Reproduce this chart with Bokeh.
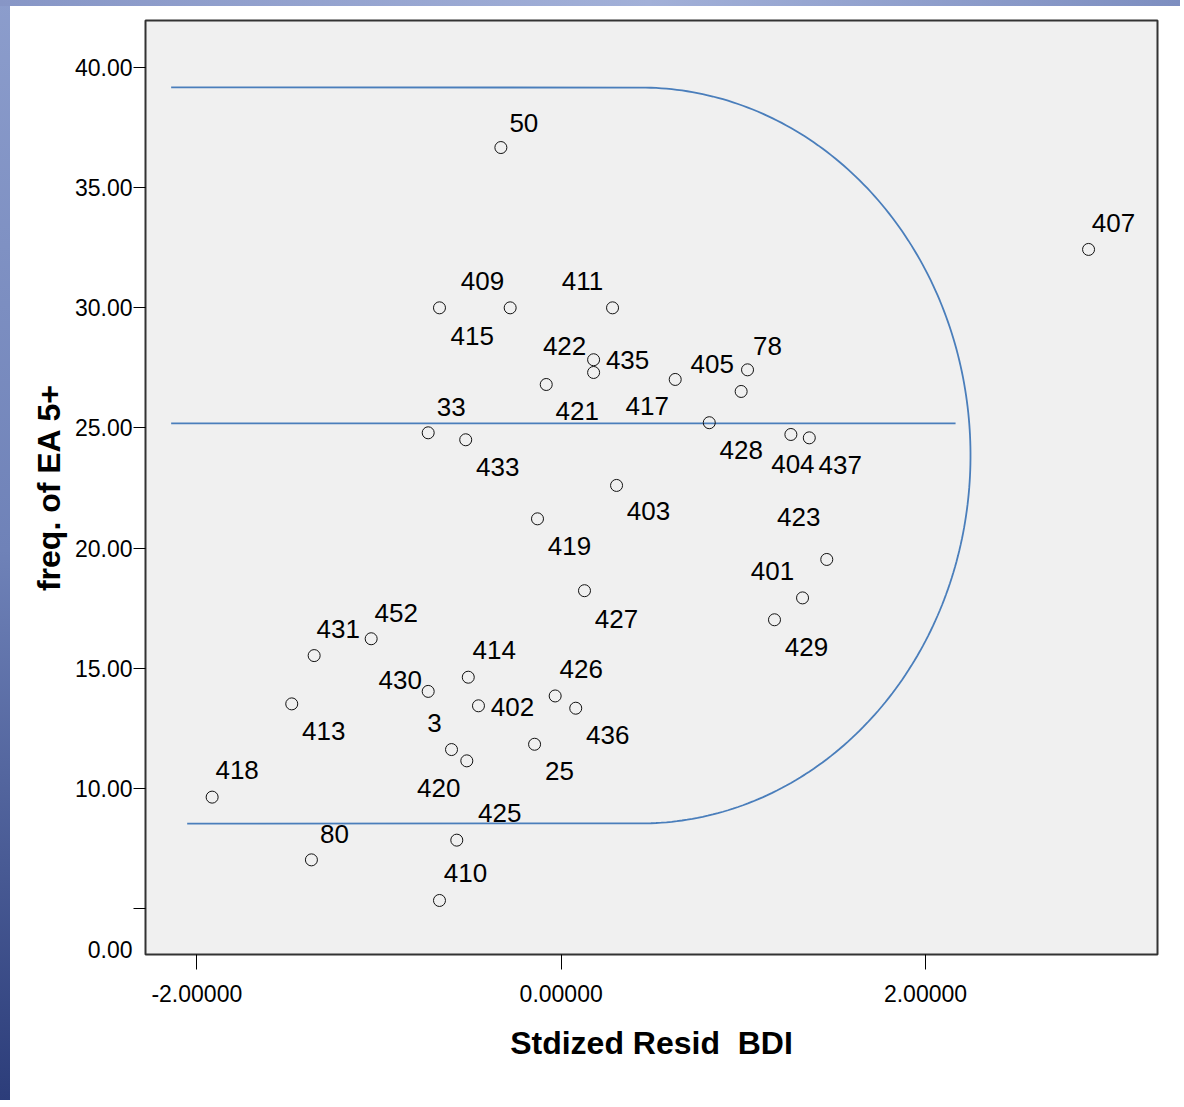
import numpy as np
from bokeh.plotting import figure
from bokeh.models import (FixedTicker, NumeralTickFormatter,
                          ColumnDataSource, Range1d)
from bokeh.core.properties import value
from bokeh.embed import file_html
from bokeh.resources import INLINE

# ---- data ----
case_ids = ["50", "407", "409", "415", "411", "422", "435", "421", "417", "78",
            "405", "428", "33", "433", "404", "437", "403", "419", "423", "401",
            "429", "427", "452", "431", "414", "430", "426", "402", "436", "413",
            "3", "420", "25", "418", "425", "80", "410"]
resid = [-0.331, 2.895, -0.668, -0.280, 0.282, 0.178, 0.178, -0.082, 0.626, 1.023,
         0.988, 0.813, -0.730, -0.524, 1.261, 1.362, 0.304, -0.130, 1.458, 1.325,
         1.171, 0.128, -1.043, -1.356, -0.510, -0.730, -0.033, -0.454, 0.080, -1.479,
         -0.602, -0.518, -0.146, -1.916, -0.573, -1.371, -0.668]
freq = [36.67, 32.43, 30.00, 30.00, 30.00, 27.84, 27.31, 26.81, 27.02, 27.42,
        26.52, 25.22, 24.80, 24.51, 24.73, 24.59, 22.61, 21.22, 19.53, 17.93,
        17.02, 18.23, 16.23, 15.53, 14.63, 14.04, 13.85, 13.44, 13.34, 13.52,
        11.62, 11.15, 11.84, 9.64, 7.85, 7.03, 5.34]
# label placement relative to its point (screen px, centre of text)
label_dx = [23, 25, 43, -38, -30, -29, 34, 31, -28, 20,
            -29, 32, 23, 32, 2, 31, 32, 32, -28, -30,
            32, 32, 25, 24, 26, -28, 26, 34, 32, 32,
            -17, -28, 25, 25, 43, 23, 26]
label_dy = [-24, -25, -26, 29, -26, -13, -11, 28, 28, -23,
            -26, 28, -25, 28, 31, 28, 27, 28, -41, -26,
            28, 29, -25, -26, -26, -10, -26, 2, 28, 28,
            -26, 28, 28, -26, -26, -25, -26]

x_ticks = [-2, 0, 2]
y_ticks = [5, 10, 15, 20, 25, 30, 35, 40]
y_labelled = [3.30, 10, 15, 20, 25, 30, 35, 40]
y_label_text = {3.3: "0.00"}

# reference shape (horizontal lines + half ellipse)
top_y, mid_y, bot_y = 39.17, 25.19, 8.54
top_x0, mid_x0, bot_x0, mid_x1 = -2.141, -2.141, -2.053, 2.165
arc_cx, arc_cy, arc_rx, arc_ry = 0.4355, 23.856, 1.8115, 15.31

FONT = "Liberation Sans"
BLUE = "#4a7ebb"

p = figure(width=1180, height=1100, output_backend="svg", toolbar_location=None,
           x_range=Range1d(-2.2818, 3.2735), y_range=Range1d(3.092, 41.956),
           min_border_left=145, min_border_top=20, min_border_right=23,
           min_border_bottom=146)
p.background_fill_color = "#f0f0f0"
p.border_fill_color = None
p.styles = {
    "background-color": "white",
    "background-image": ("linear-gradient(to right, #8796c6, #a2b0d8 55%, #7d8ec0), "
                         "linear-gradient(to bottom, #8c9dcc, #6f82b8 50%, #2c3d7a)"),
    "background-size": "100% 6px, 10px 100%",
    "background-repeat": "no-repeat",
}
p.outline_line_color = "#333333"
p.outline_line_width = 2
p.xgrid.visible = False
p.ygrid.visible = False

# shape
t = np.linspace(np.pi / 2, -np.pi / 2, 200)
shape_x = np.concatenate([[top_x0], arc_cx + arc_rx * np.cos(t), [bot_x0]])
shape_y = np.concatenate([[top_y], arc_cy + arc_ry * np.sin(t), [bot_y]])
p.line(shape_x, shape_y, line_color=BLUE, line_width=1.8)
p.line([mid_x0, mid_x1], [mid_y, mid_y], line_color=BLUE, line_width=1.8)

src = ColumnDataSource(dict(x=resid, y=freq, t=case_ids,
                            dx=label_dx, dy=[d - 1 for d in label_dy]))
p.scatter("x", "y", source=src, marker="circle", size=12, fill_color=None,
          line_color="#111111", line_width=1)
p.text("x", "y", text="t", source=src, x_offset="dx", y_offset="dy",
       text_font=value(FONT), text_font_size="26px", text_color="black",
       text_align="center", text_baseline="alphabetic")

# axes
for ax in (p.xaxis[0], p.yaxis[0]):
    ax.axis_line_color = None
    ax.major_tick_in = 0
    ax.major_tick_line_color = "black"
    ax.major_label_text_font = FONT
    ax.major_label_text_font_size = "23px"
    ax.major_label_text_color = "black"
    ax.axis_label_text_font = FONT
    ax.axis_label_text_font_style = "bold"
    ax.axis_label_text_font_size = "32px"
    ax.axis_label_text_color = "black"

p.xaxis.ticker = FixedTicker(ticks=x_ticks)
p.xaxis.formatter = NumeralTickFormatter(format="0.00000")
p.xaxis.minor_tick_line_color = None
p.xaxis.major_tick_out = 15
p.xaxis.major_label_standoff = 15
p.xaxis.axis_label = "Stdized Resid \u00a0BDI"
p.xaxis.axis_label_standoff = 20

# labelled positions as major ticks (no marks), tick marks as minor ticks
p.yaxis.ticker = FixedTicker(ticks=y_labelled, minor_ticks=y_ticks)
p.yaxis.formatter = NumeralTickFormatter(format="0.00")
p.yaxis.major_label_overrides = y_label_text
p.yaxis.major_tick_out = 0
p.yaxis.major_tick_line_color = None
p.yaxis.minor_tick_in = 0
p.yaxis.minor_tick_out = 12
p.yaxis.minor_tick_line_color = "black"
p.yaxis.minor_tick_line_width = 1
p.yaxis.major_label_standoff = 1
p.yaxis.axis_label = "freq. of EA 5+"
p.yaxis.axis_label_standoff = 5

open("out.html", "w").write(file_html(p, INLINE))
